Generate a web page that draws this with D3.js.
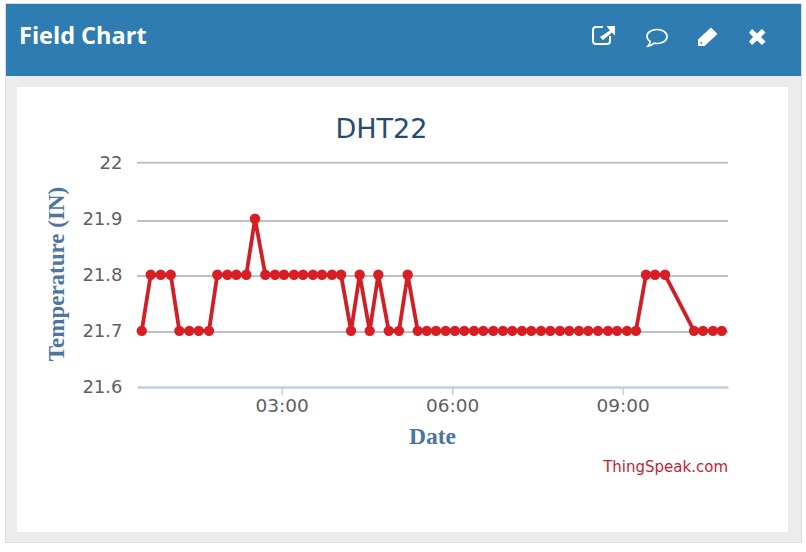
<!DOCTYPE html>
<html><head><meta charset="utf-8">
<script src="https://cdn.jsdelivr.net/npm/d3@7"></script>
<style>html,body{margin:0;padding:0;background:#fff;overflow:hidden}svg{display:block}</style>
</head><body><div id="c"></div>
<script>
const chartTitle = "DHT22", panelTitle = "Field Chart", xTitle = "Date", yTitle = "Temperature (IN)", credit = "ThingSpeak.com";
const minutes = [32.2,41.7,52.3,62.8,71.9,82.4,92.4,103.2,112,122.6,132.1,142.6,151.8,162.7,172.9,182.4,193,202.5,213,222.5,233.1,242.6,253.2,262.3,272.9,282,293,303.8,313,323.6,333.1,342.9,353.1,362.9,372.8,383,392.8,403.4,413.6,423.5,433.7,443.5,453.8,463.6,473.8,483.6,493.9,503.7,514,524.5,534,544.6,554,564.6,574.1,584.7,615.3,624.8,635.4,644.6];
const temps = [21.7,21.8,21.8,21.8,21.7,21.7,21.7,21.7,21.8,21.8,21.8,21.8,21.9,21.8,21.8,21.8,21.8,21.8,21.8,21.8,21.8,21.8,21.7,21.8,21.7,21.8,21.7,21.7,21.8,21.7,21.7,21.7,21.7,21.7,21.7,21.7,21.7,21.7,21.7,21.7,21.7,21.7,21.7,21.7,21.7,21.7,21.7,21.7,21.7,21.7,21.7,21.7,21.7,21.8,21.8,21.8,21.7,21.7,21.7,21.7];
const yTicks = [21.6,21.7,21.8,21.9,22];
const xTickHours = [3,6,9];

const toDate = m => new Date(Date.UTC(2020,0,1,0,0,m*60));
const W=806,H=552;
const svg=d3.select("#c").append("svg").attr("width",W).attr("height",H).attr("viewBox",`0 0 ${W} ${H}`);
svg.append("rect").attr("x",5.5).attr("y",3.5).attr("width",796).attr("height",539).attr("fill","#ececec").attr("stroke","#dcdcdc");
svg.append("rect").attr("x",6).attr("y",4).attr("width",795).attr("height",72).attr("fill","#2e7cb1");
svg.append("rect").attr("x",17).attr("y",87).attr("width",771).attr("height",445).attr("fill","#fff");
svg.append("text").text(panelTitle).attr("x",19).attr("y",44).attr("fill","#fff").attr("font-family","'Open Sans'").attr("font-weight",700).attr("font-size",23.5);

// header icons
const ic=svg.append("g");
ic.append("path").attr("d","M610 36v5a3 3 0 0 1-3 3h-11a3 3 0 0 1-3-3v-11a3 3 0 0 1 3-3h7").attr("fill","none").attr("stroke","#fff").attr("stroke-width",2);
ic.append("path").attr("d","M600 37L610 30.5L606.5 26H615V35.5L612 32.5L603 40Z").attr("fill","#fff");
ic.append("path").attr("d","M657 29.5c5.8 0 10 3 10 7s-4.2 7-10 7c-1 0-2-.1-3-.3c-1.5 1.5-3.500 2.800-6 3c1.200-1.200 2-2.700 2.200-4.700c-2-1.300-3.200-3-3.200-5c0-4 4.200-7 10-7z").attr("fill","none").attr("stroke","#fff").attr("stroke-width",1.7);
ic.append("path").attr("d","M711 27.500L717.500 34L704.500 46L698 46L698 39.500ZM700.500 41L700.500 43.500L703 43.500Z").attr("fill","#fff").attr("fill-rule","evenodd");
ic.append("path").attr("d","M752 29L757 33.500L762 29L765.500 32.500L761 37L765.500 41.500L762 45L757 40.500L752 45L749 41.500L753 37L749 32.500Z").attr("fill","#fff");

svg.append("text").text(chartTitle).attr("x",381.5).attr("y",138).attr("text-anchor","middle").attr("fill","#274b6d").attr("font-family","'DejaVu Sans'").attr("font-size",27);

const x=d3.scaleUtc().domain([toDate(27.2),toDate(651.2)]).range([137,728]);
const y=d3.scaleLinear().domain([21.6,22]).range([386.9,162.7]);
const gridPos=d3.scaleLinear().domain(yTicks).range([387,332,276,221,162.7]);

const grid=svg.append("g");
grid.selectAll("line").data(yTicks.slice(1)).join("line").attr("x1",137).attr("x2",728).attr("y1",d=>gridPos(d)).attr("y2",d=>gridPos(d)).attr("stroke","#c0c0c0").attr("stroke-width",2);

const xAxis=svg.append("g").attr("transform","translate(0,387)").call(
  d3.axisBottom(x).tickValues(xTickHours.map(h=>toDate(h*60))).tickFormat(d3.utcFormat("%H:%M")).tickSizeInner(8).tickSizeOuter(0).tickPadding(4));
xAxis.select(".domain").attr("stroke","#c0d0e0").attr("stroke-width",2.4);
xAxis.selectAll(".tick line").attr("stroke","#c0d0e0").attr("stroke-width",1.4);
xAxis.selectAll("text").attr("fill","#606060").attr("font-family","'DejaVu Sans'").attr("font-size",18.500);

const yLab=svg.append("g");
yLab.selectAll("text").data(yTicks).join("text").text(d=>d3.format(".1~f")(d)).attr("x",122.500).attr("y",d=>y(d)+6.500).attr("text-anchor","end").attr("fill","#606060").attr("font-family","'DejaVu Sans'").attr("font-size",18);

const pts=minutes.map((m,i)=>({t:toDate(m),v:temps[i]}));
svg.append("path").attr("d",d3.line().x(d=>x(d.t)).y(d=>y(d.v))(pts)).attr("fill","none").attr("stroke","#cf2027").attr("stroke-width",3.8).attr("stroke-linejoin","round");
svg.append("g").selectAll("circle").data(pts).join("circle").attr("cx",d=>x(d.t)).attr("cy",d=>y(d.v)).attr("r",5.2).attr("fill","#d81e24");

svg.append("text").text(xTitle).attr("x",432.500).attr("y",444).attr("text-anchor","middle").attr("fill","#4d759e").attr("font-family","'Liberation Serif'").attr("font-weight",700).attr("font-size",23.500);
svg.append("text").text(yTitle).attr("transform","translate(64,274) rotate(-90)").attr("text-anchor","middle").attr("fill","#4d759e").attr("font-family","'Liberation Serif'").attr("font-weight",700).attr("font-size",23);
svg.append("text").text(credit).attr("x",728).attr("y",472).attr("text-anchor","end").attr("fill","#c42433").attr("font-family","'DejaVu Sans'").attr("font-size",15);
</script></body></html>
